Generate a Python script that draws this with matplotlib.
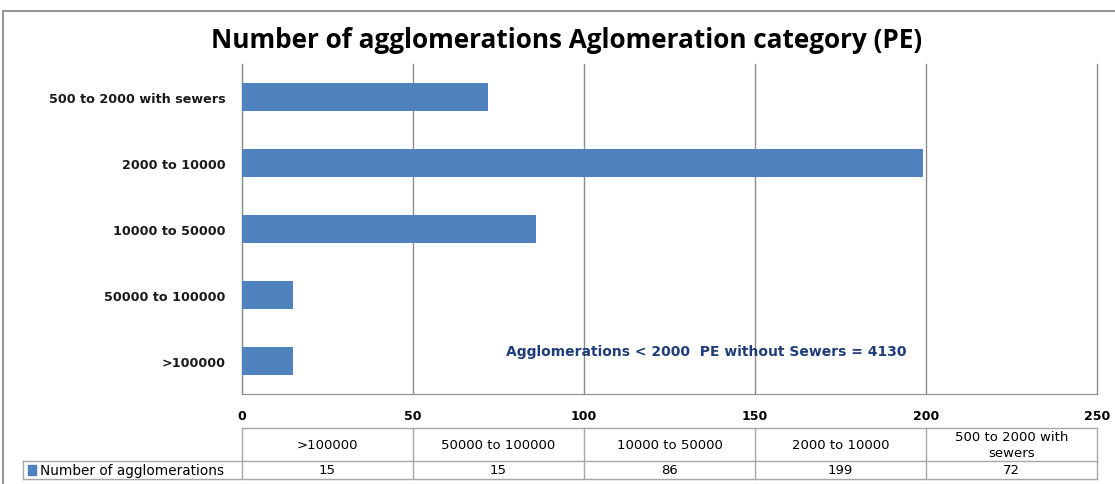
import numpy as np
import matplotlib.pyplot as plt
from matplotlib.patches import Rectangle

# data
categories = [">100000", "50000 to 100000", "10000 to 50000", "2000 to 10000", "500 to 2000 with sewers"]
values = [15, 15, 86, 199, 72]
series_name = "Number of agglomerations"
title = "Number of agglomerations Aglomeration category (PE)"
note = "Agglomerations < 2000  PE without Sewers = 4130"
xticks = [0, 50, 100, 150, 200, 250]

bar_color = "#4F81BD"
grid_color = "#8C8C8C"
table_color = "#A6A6A6"

W, H = 1115, 485
fig = plt.figure(figsize=(W / 100, H / 100), dpi=100)

# outer chart border
fig.patches.append(Rectangle((3 / W, -0.01), (1120 - 3) / W, (H - 12) / H + 0.01,
                             transform=fig.transFigure, fill=False,
                             edgecolor="#808080", lw=1.2))

ax = fig.add_axes([242 / W, 1 - 395 / H, (1097 - 242) / W, (395 - 65) / H])
y = np.arange(len(categories))
ax.barh(y, values, height=0.41, color=bar_color, zorder=3)
ax.set_xlim(0, 250)
ax.set_ylim(-0.5, len(categories) - 0.5)
ax.set_xticks(xticks)
ax.set_yticks(y)
ax.set_yticklabels(categories, fontsize=9.2, fontweight="bold", color="#1a1a1a")
ax.tick_params(axis="y", length=0, pad=12)
ax.tick_params(axis="x", length=0, pad=11, labelsize=9)
for lab in ax.get_xticklabels():
    lab.set_fontweight("bold")
ax.grid(axis="x", color=grid_color, lw=1, zorder=0)
for gl in ax.get_xgridlines():
    gl.set_clip_on(False)
for s in ["top", "right"]:
    ax.spines[s].set_visible(False)
ax.spines["left"].set_color(grid_color)
ax.spines["bottom"].set_color(grid_color)

ax.text(0.543, 0.13, note, transform=ax.transAxes, ha="center", va="center",
        fontsize=10, fontweight="bold", color="#1F3D7A", zorder=4)

fig.text(567 / W, 1 - 41 / H, title, ha="center", va="center",
         fontsize=18.8, fontweight="bold", family=["Open Sans", "DejaVu Sans"])

# data table under the axis
tr = ax.get_xaxis_transform()
y_top, y_mid, y_bot = -0.103, -0.203, -0.2576
x_left = -64
kw = dict(transform=tr, color=table_color, lw=1, clip_on=False)
ax.plot([0, 250], [y_top, y_top], **kw)
ax.plot([x_left, 250], [y_mid, y_mid], **kw)
ax.plot([x_left, 250], [y_bot, y_bot], **kw)
ax.plot([x_left, x_left], [y_mid, y_bot], **kw)
for xv in xticks:
    ax.plot([xv, xv], [y_top, y_bot], **kw)

for i, (cat, val) in enumerate(zip(categories, values)):
    xc = 25 + 50 * i
    hdr = "500 to 2000 with\nsewers" if cat == "500 to 2000 with sewers" else cat
    ax.text(xc, (y_top + y_mid) / 2, hdr, transform=tr, ha="center", va="center",
            fontsize=9.5, linespacing=1.3, clip_on=False)
    ax.text(xc, (y_mid + y_bot) / 2, str(val), transform=tr, ha="center", va="center",
            fontsize=9.5, clip_on=False)

ax.add_patch(Rectangle((x_left + 1.5, y_bot + 0.013), 2.2, 0.03, transform=tr,
                       color=bar_color, clip_on=False))
ax.text(x_left + 4.8, (y_mid + y_bot) / 2, series_name, transform=tr, ha="left",
        va="center", fontsize=9.8, clip_on=False)

fig.savefig("out.png", dpi=100)
